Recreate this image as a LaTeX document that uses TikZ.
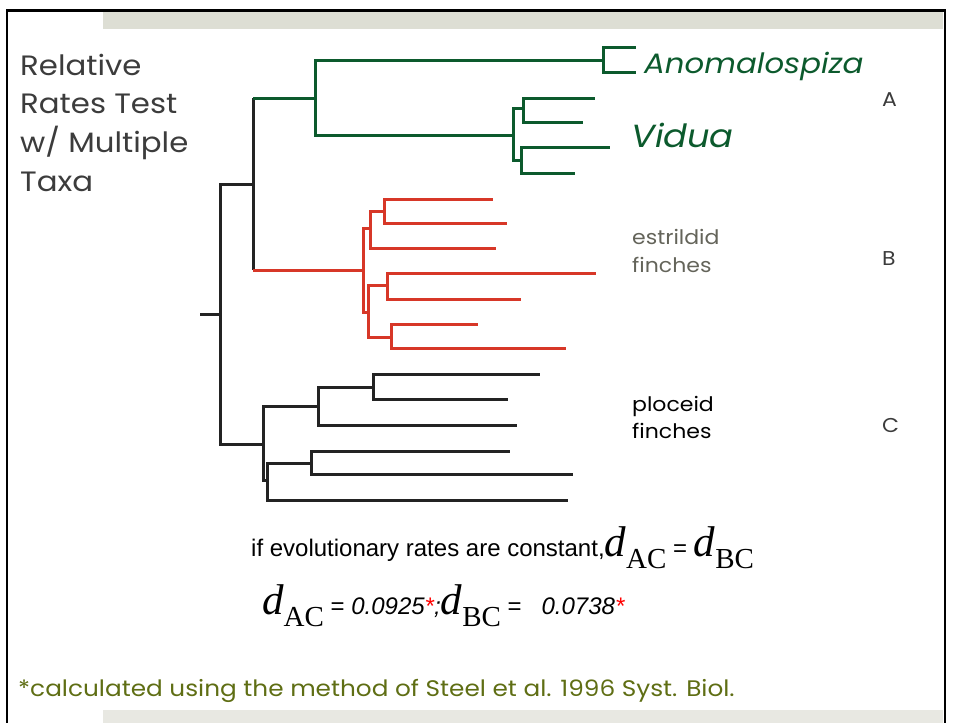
\documentclass[tikz,border=0pt]{standalone}
\usepackage{fontspec}
\newfontfamily\gothic[FakeStretch=1.1]{Poppins}
\newfontfamily\arialf{Liberation Sans}
\newfontfamily\tnr{Liberation Serif}
\definecolor{tgreen}{RGB}{12,90,45}
\definecolor{tred}{RGB}{215,55,40}
\definecolor{tblack}{RGB}{35,35,35}
\definecolor{topbar}{RGB}{221,222,212}
\definecolor{botbar}{RGB}{232,232,226}
\definecolor{olive}{RGB}{95,110,20}
\definecolor{titlegray}{RGB}{60,60,60}
\definecolor{estgray}{RGB}{100,100,90}
\newcommand{\fs}[1]{\fontsize{#1}{#1}\selectfont}
\newcommand{\dvar}[1]{{\tnr\itshape\fs{43}d}{\tnr\fs{29}\raisebox{-12pt}{#1}}}
\begin{document}
\begin{tikzpicture}[x=1pt,y=-1pt,
  br/.style={line width=3pt,line join=miter},
  gbr/.style={br,draw=tgreen},
  rbr/.style={br,draw=tred},
  kbr/.style={br,draw=tblack},
  lbl/.style={inner sep=0pt,anchor=base west}]
\useasboundingbox (0,0) rectangle (956,723);
% frame and bars
\fill[topbar] (103,12) rectangle (943,28.5);
\fill[botbar] (103,710) rectangle (943,723);
\draw[line width=2.2pt,black] (7,730) -- (7,10.5) -- (945,10.5) -- (945,730);
% ---------- tree coordinates ----------
\coordinate (stem) at (200,314);
\coordinate (r0) at (220,314);
\coordinate (nAB) at (253,184);
\coordinate (nAj) at (253,98);
\coordinate (nBj) at (253,270);
\coordinate (nA) at (315,98);
\coordinate (anom) at (603,60);
\coordinate (an1) at (636,47);
\coordinate (an2) at (636,72);
\coordinate (vid) at (513,135);
\coordinate (v1) at (523,108);
\coordinate (v2) at (521,160);
\coordinate (v11) at (595,98);
\coordinate (v12) at (583,122);
\coordinate (v21) at (610,147);
\coordinate (v22) at (575,173);
\coordinate (nB) at (363,270);
\coordinate (b1) at (370,228);
\coordinate (b11) at (384,211);
\coordinate (b111) at (493,199);
\coordinate (b112) at (507,223);
\coordinate (b12) at (496,248);
\coordinate (b2) at (368,312);
\coordinate (b21) at (387,285);
\coordinate (b211) at (596,273);
\coordinate (b212) at (521,299);
\coordinate (b22) at (391,337);
\coordinate (b221) at (478,324);
\coordinate (b222) at (566,348);
\coordinate (nC) at (263,444);
\coordinate (c1) at (318,406);
\coordinate (c11) at (373,387);
\coordinate (c111) at (540,374);
\coordinate (c112) at (508,399);
\coordinate (c12) at (517,425);
\coordinate (c2) at (267,480);
\coordinate (c21) at (311,463);
\coordinate (c211) at (510,451);
\coordinate (c212) at (573,474);
\coordinate (c22) at (568,500);
% ---------- black backbone ----------
\draw[kbr] (stem) -- (r0);
\draw[kbr] (r0) |- (nAB);
\draw[kbr] (r0) |- (nC);
\draw[kbr] (nAB) -- (nAj);
\draw[kbr] (nAB) -- (nBj);
% ---------- green clade A ----------
\draw[gbr] (nAj) -- (nA);
\draw[gbr] (nA) |- (anom);
\draw[gbr] (nA) |- (vid);
\draw[gbr] (anom) |- (an1);
\draw[gbr] (anom) |- (an2);
\draw[gbr] (vid) |- (v1);
\draw[gbr] (vid) |- (v2);
\draw[gbr] (v1) |- (v11);
\draw[gbr] (v1) |- (v12);
\draw[gbr] (v2) |- (v21);
\draw[gbr] (v2) |- (v22);
% ---------- red clade B ----------
\draw[rbr] (nBj) -- (nB);
\draw[rbr] (nB) |- (b1);
\draw[rbr] (nB) |- (b2);
\draw[rbr] (b1) |- (b11);
\draw[rbr] (b1) |- (b12);
\draw[rbr] (b11) |- (b111);
\draw[rbr] (b11) |- (b112);
\draw[rbr] (b2) |- (b21);
\draw[rbr] (b2) |- (b22);
\draw[rbr] (b21) |- (b211);
\draw[rbr] (b21) |- (b212);
\draw[rbr] (b22) |- (b221);
\draw[rbr] (b22) |- (b222);
% ---------- black clade C ----------
\draw[kbr] (nC) |- (c1);
\draw[kbr] (nC) |- (c2);
\draw[kbr] (c1) |- (c11);
\draw[kbr] (c1) |- (c12);
\draw[kbr] (c11) |- (c111);
\draw[kbr] (c11) |- (c112);
\draw[kbr] (c2) |- (c21);
\draw[kbr] (c2) |- (c22);
\draw[kbr] (c21) |- (c211);
\draw[kbr] (c21) |- (c212);
% ---------- texts ----------
\node[lbl,text=titlegray,font=\gothic\fs{28}] (t1) at (20,75) {Relative};
\node[lbl,text=titlegray,font=\gothic\fs{28}] (t2) at (20,113) {Rates Test};
\node[lbl,text=titlegray,font=\gothic\fs{28}] (t3) at (20,152) {w/ Multiple};
\node[lbl,text=titlegray,font=\gothic\fs{28}] (t4) at (20,191) {Taxa};
\node[lbl,text=tgreen,font=\gothic\itshape\fs{28}] (anomt) at (644,73) {Anomalospiza};
\node[lbl,text=tgreen,font=\gothic\itshape\fs{32}] (vidt) at (631,147) {Vidua};
\node[lbl,text=estgray,font=\gothic\fs{20}] (est1) at (632,244) {estrildid};
\node[lbl,text=estgray,font=\gothic\fs{20}] (est2) at (632,272) {finches};
\node[lbl,text=black,font=\gothic\fs{20}] (plo1) at (632,411) {ploceid};
\node[lbl,text=black,font=\gothic\fs{20}] (plo2) at (632,438) {finches};
\node[lbl,text=titlegray,font=\gothic\fs{20}] (la) at (882,106) {A};
\node[lbl,text=titlegray,font=\gothic\fs{20}] (lb) at (882,265) {B};
\node[lbl,text=titlegray,font=\gothic\fs{20}] (lc) at (882,432) {C};
% equations
\node[lbl] (eq1) at (251,556) {{\arialf\fs{24}if evolutionary rates are constant,}%
 \dvar{AC}{\arialf\fs{24} = }\dvar{BC}};
\node[lbl] (eq2) at (262,614) {\dvar{AC}%
 {\arialf\fs{24} = \itshape 0.0925{\color{red}*};}%
 \dvar{BC}%
 {\arialf\fs{24} =~~ \itshape 0.0738{\color{red}*}}};
\node[lbl,text=olive,font=\gothic\fs{22.5}] (foot) at (18,696) {*calculated using the method of Steel et al. 1996 Syst. Biol.};
\end{tikzpicture}
\end{document}
